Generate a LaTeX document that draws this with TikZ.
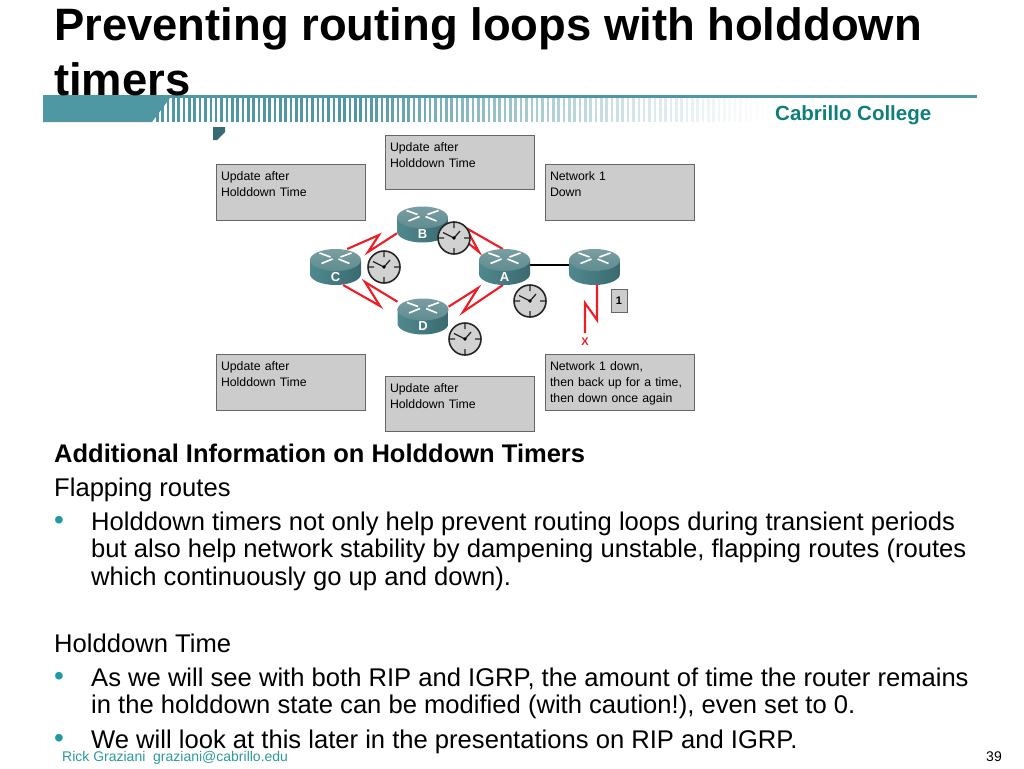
\documentclass[tikz,border=0pt]{standalone}
\usepackage{fontspec}
\setmainfont{Liberation Sans}
\usetikzlibrary{positioning}
\definecolor{barteal}{HTML}{4F98A3}
\definecolor{bulletteal}{HTML}{1F9A9E}
\definecolor{collegeteal}{HTML}{0E7F7A}
\definecolor{footteal}{HTML}{2A9A9F}
\definecolor{boxgray}{HTML}{CCCCCC}
\definecolor{boxedge}{HTML}{666666}
\definecolor{linkred}{HTML}{EE1C25}
\definecolor{routertop}{HTML}{7A9EA2}
\definecolor{routermid}{HTML}{5F8C90}
\definecolor{routerleft}{HTML}{4F898E}
\definecolor{routerlight}{HTML}{7FB2B5}
\definecolor{routerright}{HTML}{3A6A70}

\begin{document}
\begin{tikzpicture}[x=1pt,y=-1pt,
  router node/.style={minimum width=51pt,minimum height=36pt,inner sep=0pt,outer sep=0pt},
  router label/.style={text=white,font=\fontsize{13}{13}\selectfont\bfseries,inner sep=0pt},
  info box/.style={draw=boxedge,fill=boxgray,line width=1pt,anchor=north west,text width=139.5pt,
    inner xsep=5pt,inner ysep=2.8pt,outer sep=0pt,align=left,font=\fontsize{12.3}{16}\selectfont,
    execute at begin node=\rule{0pt}{13.2pt}},
  red link/.style={draw=linkred,line width=2.1pt,line join=miter},
  clock face/.style={circle,draw=black!85,fill=black!18,line width=1.6pt,minimum size=32pt,inner sep=0pt,
    path picture={\draw[shift={(path picture bounding box.center)},black!85,line width=1.3pt]
      (-16,0) -- (-10,0) (16,0) -- (10,0) (0,-16) -- (0,-10) (0,16) -- (0,10)
      (-11,-5.5) -- (0,0) -- (6,-7);
      \fill[shift={(path picture bounding box.center)},black] (0,0) circle (1.8pt);}},
  body text/.style={anchor=north west,inner sep=0pt,align=left,font=\fontsize{25.6}{27.5}\selectfont},
  bullet mark/.style={anchor=base west,inner sep=0pt,text=bulletteal,font=\fontsize{28}{28}\selectfont}]

  \useasboundingbox (0,0) rectangle (1024,768);

  % header bar
  \fill[barteal] (43,95) rectangle (977,98);
  \fill[barteal] (43,98) -- (170,98) -- (152,122) -- (43,122) -- cycle;
  \foreach \i in {0,...,114} {
    \pgfmathsetmacro{\barx}{156+5.35*\i}
    \pgfmathsetmacro{\fade}{min(100,100*pow((778-\barx)/420,1.3))}
    \fill[barteal!\fade!white] (\barx,98) rectangle (\barx+2.6,122);
  }
  \fill[barteal!70!black] (213,127) -- (225,127) -- (225,132) -- (217,140) -- (213,140) -- cycle;

  \node[anchor=base west,inner sep=0pt,align=left,font=\fontsize{45.4}{54}\selectfont\bfseries] (title)
    at (54,41) {Preventing routing loops with holddown};
  \node[anchor=base west,inner sep=0pt,font=\fontsize{45.4}{54}\selectfont\bfseries] (title2)
    at (54,95) {timers};
  \node[anchor=base west,inner sep=0pt,text=collegeteal,font=\fontsize{20.5}{20.5}\selectfont\bfseries] (college)
    at (775,120) {Cabrillo College};

  % info boxes
  \node[info box] (box1) at (216,164) {Update after\\Holddown Time\\\rule[-6pt]{0pt}{6pt}};
  \node[info box] (box2) at (385,135) {Update after\\Holddown Time\\\rule[-4pt]{0pt}{4pt}};
  \node[info box] (box3) at (545,164) {Network 1\\Down\\\rule[-6pt]{0pt}{6pt}};
  \node[info box] (box4) at (216,354) {Update after\\Holddown Time\\\rule[-6pt]{0pt}{6pt}};
  \node[info box] (box5) at (385,376) {Update after\\Holddown Time\\\rule[-5pt]{0pt}{5pt}};
  \node[info box] (box6) at (545,354) {Network 1 down,\\then back up for a time,\\then down once again\rule[-6pt]{0pt}{6pt}};

  % routers
  \node[router node] (c) at (335.5,267) {};
  \node[router node] (b) at (422.5,224.5) {};
  \node[router node] (d) at (423,316.5) {};
  \node[router node] (a) at (504.5,267) {};
  \node[router node] (e) at (594.5,267) {};

  \coordinate (cb1) at (379,235);
  \coordinate (cb2) at (368,252);
  \coordinate (cd1) at (380,306);
  \coordinate (cd2) at (365,282);
  \coordinate (ba1) at (479,252);
  \coordinate (ba2) at (466,228);
  \coordinate (da1) at (478,288);
  \coordinate (da2) at (463,312);
  \coordinate (e1) at (597,320);
  \coordinate (e2) at (585,303);
  \coordinate (e3) at (585,333);

  \draw[red link] (c.57) -- (cb1) -- (cb2) -- (b.199);
  \draw[red link] (c.-67) -- (cd1) -- (cd2) -- (d.150);
  \draw[red link] (b.-5) -- (ba1) -- (ba2) -- (a.95);
  \draw[red link] (d.21) -- (da1) -- (da2) -- (a.-95);
  \draw[red link] (e.south -| e1) -- (e1) -- (e2) -- (e3);
  \draw[black,line width=1.7pt] (a.4) -- (e.176);

  \foreach \name/\txt in {c/C,b/B,d/D,a/A,e/} {
    \begin{scope}[shift={(\name.center)}]
      \shade[left color=routerleft,middle color=routerlight,right color=routerright]
        (-25.5,-7) -- (-25.5,7) arc[start angle=180,end angle=360,x radius=25.5pt,y radius=11pt]
        -- (25.5,-7) -- cycle;
      \shade[top color=routertop,bottom color=routermid]
        (0,-7) ellipse [x radius=25.5pt,y radius=11pt];
      \draw[white,line width=1.6pt]
        (-16,-14) -- (-5,-10) (3,-8) -- (14,-3.5)
        (16,-14) -- (5,-10) (-3,-8) -- (-14,-3.5);
      \node[router label] (\name label) at (0,9.7) {\txt};
    \end{scope}
  }

  % clocks and the rest of the network
  \node[clock face] (clockc) at (384,267) {};
  \node[clock face] (clockb) at (454,238) {};
  \node[clock face] (clocka) at (530,301) {};
  \node[clock face] (clockd) at (465,339) {};

  \node[draw=boxedge,fill=boxgray,line width=.8pt,minimum width=16pt,minimum height=23pt,inner sep=0pt,
    font=\fontsize{11}{11}\selectfont\bfseries] (net1) at (619,300.5) {1};
  \node[text=linkred,inner sep=0pt,font=\fontsize{11}{11}\selectfont\bfseries] (cut) at (585,342) {X};

  % text below the picture
  \node[anchor=base west,inner sep=0pt,font=\fontsize{25.5}{27.5}\selectfont\bfseries] (head)
    at (54,462) {Additional Information on Holddown Timers};
  \node[anchor=base west,inner sep=0pt,font=\fontsize{25.6}{27.5}\selectfont] (flap)
    at (54,496) {Flapping routes};
  \node[bullet mark] (bul1) at (54,529.4) {•};
  \node[body text] (par1) at (91,510.75) {\strut Holddown timers not only help prevent routing loops during transient periods\\
    but also help network stability by dampening unstable, flapping routes (routes\\
    which continuously go up and down).};
  \node[anchor=base west,inner sep=0pt,font=\fontsize{25.6}{27.5}\selectfont] (hold)
    at (54,652) {Holddown Time};
  \node[bullet mark] (bul2) at (54,685.4) {•};
  \node[body text] (par2) at (91,666.75) {\strut As we will see with both RIP and IGRP, the amount of time the router remains\\
    in the holddown state can be modified (with caution!), even set to 0.};
  \node[bullet mark] (bul3) at (54,747.4) {•};
  \node[body text] (par3) at (91,728.75) {\strut We will look at this later in the presentations on RIP and IGRP.};

  \node[anchor=base west,inner sep=0pt,text=footteal,font=\fontsize{14}{14}\selectfont] (foot)
    at (62,761) {Rick Graziani\ \ graziani@cabrillo.edu};
  \node[anchor=base east,inner sep=0pt,font=\fontsize{14}{14}\selectfont] (page)
    at (1002,761) {39};
\end{tikzpicture}
\end{document}
